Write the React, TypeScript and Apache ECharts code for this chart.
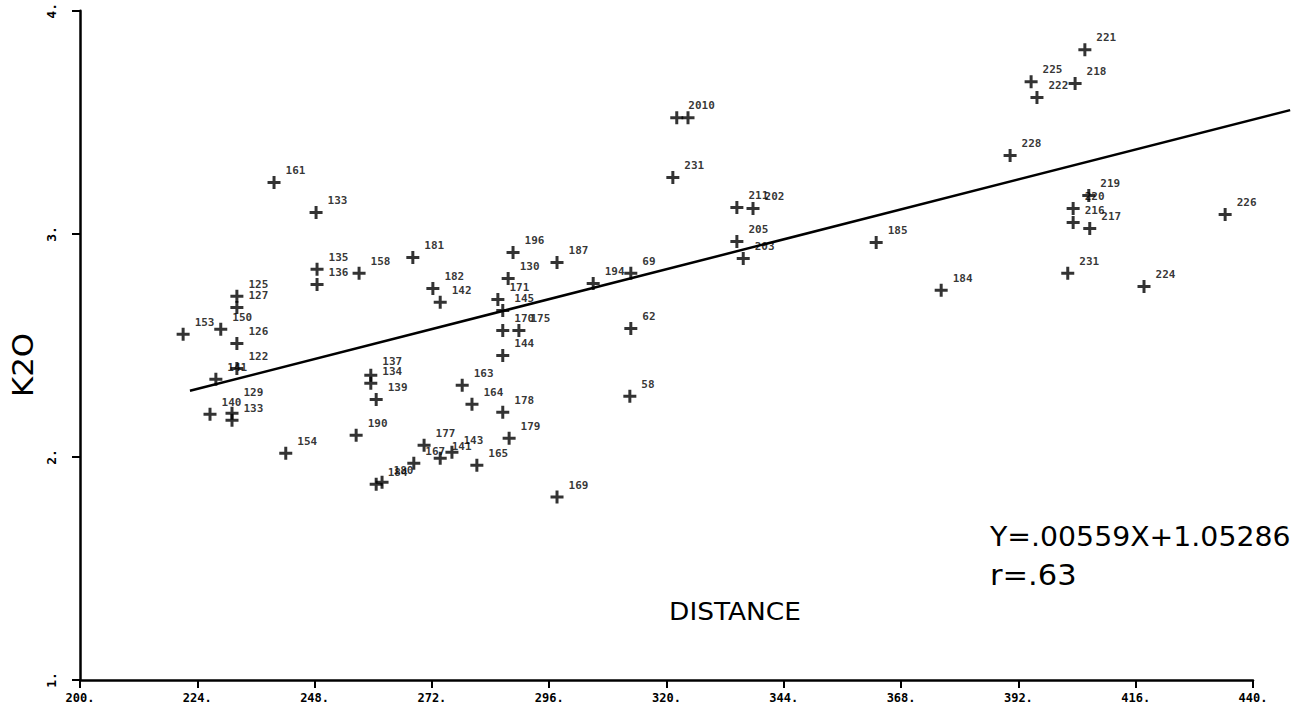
import React, { useEffect, useRef } from "react";
import * as echarts from "echarts";

// Sample numbers plotted beside each point
const SAMPLE_IDS = [
  "161", "133", "135", "136", "158", "181", "182", "142", "125", "127",
  "150", "153", "126", "122", "141", "129", "140", "133", "154", "137",
  "134", "139", "190", "184", "180", "167", "177", "141", "143", "165",
  "179", "196", "187", "130", "171", "145", "170", "175", "144", "163",
  "164", "178", "169", "194", "69", "62", "58", "2010", "", "231",
  "211", "202", "205", "203", "185", "184", "221", "225", "222", "218",
  "228", "219", "220", "216", "217", "226", "231", "224",
];

// Distance of each sample
const DISTANCE = [
  239.7, 248.3, 248.5, 248.5, 257.1, 268.1, 272.2, 273.7, 232.1, 232.1,
  228.8, 221.1, 232.1, 232.1, 227.8, 231.1, 226.6, 231.1, 242.1, 259.5,
  259.5, 260.6, 256.5, 260.6, 261.8, 268.3, 270.4, 273.7, 276.1, 281.2,
  287.8, 288.6, 297.6, 287.6, 285.5, 286.5, 286.5, 289.8, 286.5, 278.2,
  280.2, 286.5, 297.6, 305.0, 312.7, 312.7, 312.5, 322.1, 324.4, 321.3,
  334.4, 337.7, 334.4, 335.7, 362.9, 376.2, 405.6, 394.6, 395.8, 403.6,
  390.3, 406.4, 403.2, 403.2, 406.6, 434.3, 402.1, 417.7,
];

// K2O content of each sample
const K2O = [
  3.23, 3.096, 2.841, 2.773, 2.823, 2.894, 2.755, 2.693, 2.72, 2.67,
  2.572, 2.55, 2.509, 2.397, 2.348, 2.196, 2.191, 2.164, 2.017, 2.366,
  2.33, 2.258, 2.097, 1.878, 1.887, 1.972, 2.052, 1.994, 2.021, 1.963,
  2.084, 2.917, 2.872, 2.8, 2.706, 2.657, 2.567, 2.567, 2.455, 2.321,
  2.236, 2.2, 1.82, 2.778, 2.823, 2.576, 2.272, 3.521, 3.521, 3.253,
  3.118, 3.114, 2.966, 2.89, 2.961, 2.747, 3.826, 3.682, 3.611, 3.674,
  3.351, 3.172, 3.114, 3.051, 3.024, 3.087, 2.823, 2.764,
];

// Least-squares fit, as printed on the plot
const SLOPE = 0.00559;
const INTERCEPT = 1.05286;
const FIT_RANGE = [222.5, 447.6];

const X_MIN = 200;
const X_MAX = 440;
const X_STEP = 24;
const Y_MIN = 1;
const Y_MAX = 4;
const Y_STEP = 1;

const EQUATION_TEXT = "Y=.00559X+1.05286";
const R_TEXT = "r=.63";

// Labels that sit a little higher than the default spot
const LABEL_LIFT: Record<number, number> = { 15: -9, 19: -2 };

const PLUS = "path://M3.85,0H6.15V3.85H10V6.15H6.15V10H3.85V6.15H0V3.85H3.85Z";
const INK = "#000000";
const TITLE_FONT = "'DejaVu Sans', sans-serif";
const PLOTTER_FONT = "'DejaVu Sans Mono', monospace";

export default function App() {
  const ref = useRef<HTMLDivElement>(null);

  useEffect(() => {
    document.body.style.margin = "0";
    const chart = echarts.init(ref.current!, null, { renderer: "svg" });

    const points = DISTANCE.map((x, i) => ({
      name: SAMPLE_IDS[i],
      value: [x, K2O[i]],
      label: LABEL_LIFT[i] !== undefined ? { offset: [0, -12 + LABEL_LIFT[i]] } : undefined,
    }));

    const texts = [
      {
        type: "text",
        x: 23,
        y: 365,
        rotation: Math.PI / 2,
        scaleX: 1.1,
        style: {
          text: "K2O",
          fill: INK,
          font: `28px ${TITLE_FONT}`,
          textAlign: "center",
          textVerticalAlign: "middle",
        },
      },
      {
        type: "text",
        x: 735,
        y: 612,
        scaleX: 1.1,
        style: {
          text: "DISTANCE",
          fill: INK,
          font: `24px ${TITLE_FONT}`,
          textAlign: "center",
          textVerticalAlign: "middle",
        },
      },
      {
        type: "text",
        x: 990,
        y: 537,
        scaleX: 1.09,
        style: {
          text: EQUATION_TEXT,
          fill: INK,
          font: `26px ${TITLE_FONT}`,
          textAlign: "left",
          textVerticalAlign: "middle",
        },
      },
      {
        type: "text",
        x: 990,
        y: 575,
        scaleX: 1.09,
        style: {
          text: R_TEXT,
          fill: INK,
          font: `28px ${TITLE_FONT}`,
          textAlign: "left",
          textVerticalAlign: "middle",
        },
      },
    ];

    chart.setOption({
      animation: false,
      backgroundColor: "#ffffff",
      grid: { left: 80, right: 54, top: 10, bottom: 39 },
      xAxis: {
        type: "value",
        min: X_MIN,
        max: X_MAX,
        interval: X_STEP,
        axisLine: { lineStyle: { color: INK, width: 2.5 } },
        axisTick: { length: 8, lineStyle: { color: INK, width: 2 } },
        splitLine: { show: false },
        axisLabel: {
          formatter: (v: number) => `${v}.`,
          color: INK,
          fontFamily: PLOTTER_FONT,
          fontWeight: "bold",
          fontSize: 12,
          margin: 12,
        },
      },
      yAxis: {
        type: "value",
        min: Y_MIN,
        max: Y_MAX,
        interval: Y_STEP,
        axisLine: { show: true, lineStyle: { color: INK, width: 2.5 } },
        axisTick: { show: true, length: 8, lineStyle: { color: INK, width: 2 } },
        splitLine: { show: false },
        axisLabel: {
          formatter: (v: number) => `${v}.`,
          rotate: 90,
          color: INK,
          fontFamily: PLOTTER_FONT,
          fontWeight: "bold",
          fontSize: 13,
          margin: 22,
        },
      },
      series: [
        {
          type: "scatter",
          data: points,
          symbol: PLUS,
          symbolSize: 13,
          itemStyle: { color: INK },
          label: {
            show: true,
            position: "right",
            distance: 5,
            offset: [0, -12],
            formatter: (p: any) => p.name,
            color: INK,
            fontFamily: PLOTTER_FONT,
            fontWeight: "bold",
            fontSize: 11,
          },
          z: 3,
        },
      ],
      graphic: texts,
    });

    // Fit line, placed through the grid's own coordinate mapping
    const ends = FIT_RANGE.map((x) =>
      chart.convertToPixel({ gridIndex: 0 }, [x, INTERCEPT + SLOPE * x]) as number[]
    );
    chart.setOption({
      graphic: [
        ...texts,
        {
          type: "line",
          shape: { x1: ends[0][0], y1: ends[0][1], x2: ends[1][0], y2: ends[1][1] },
          style: { stroke: INK, lineWidth: 2.5 },
          z: 2,
        },
      ],
    });

    return () => chart.dispose();
  }, []);

  return <div ref={ref} style={{ width: 1307, height: 719 }} />;
}
